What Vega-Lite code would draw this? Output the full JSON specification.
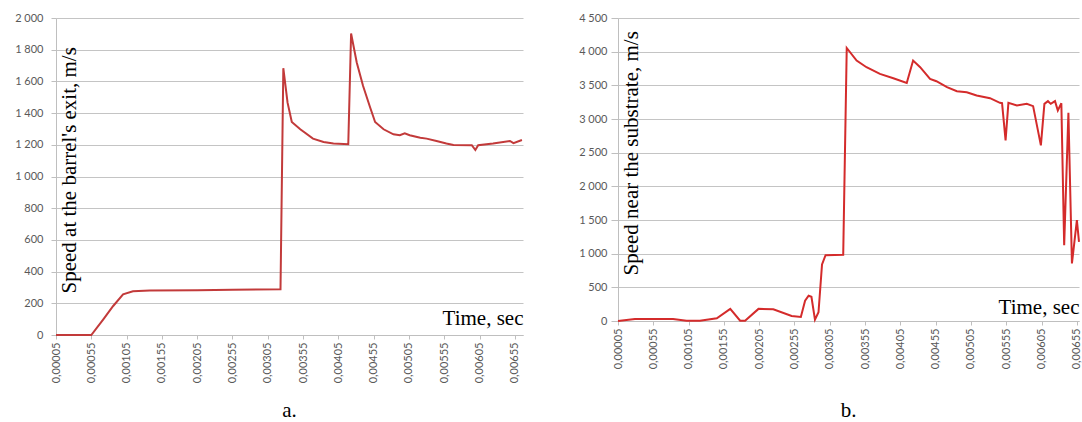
{
  "$schema": "https://vega.github.io/schema/vega-lite/v6.json",
  "background": "white",
  "padding": {"left": 14, "top": 12, "right": 0, "bottom": 0},
  "bounds": "flush",
  "spacing": 95,
  "config": {
    "view": {"stroke": null},
    "axis": {
      "labelFont": "Lato",
      "labelFontSize": 11,
      "labelColor": "#595959",
      "domainColor": "#bfbfbf",
      "tickColor": "#bfbfbf",
      "gridColor": "#c4c4c4",
      "titleFont": "Liberation Serif",
      "titleFontSize": 21,
      "titleFontWeight": "normal",
      "titleColor": "#000000",
      "labelFlush": false,
      "labelOverlap": false,
      "labelBound": false
    },
    "title": {"font": "Liberation Serif", "fontSize": 21, "fontWeight": "normal", "color": "#000000"}
  },
  "datasets": {
    "a": [
      {"t": 0.00005, "v": 0}, {"t": 0.00055, "v": 0}, {"t": 0.00072, "v": 99}, {"t": 0.00086, "v": 183},
      {"t": 0.00100, "v": 257}, {"t": 0.00114, "v": 276}, {"t": 0.00138, "v": 280}, {"t": 0.00205, "v": 283},
      {"t": 0.00255, "v": 285}, {"t": 0.00323, "v": 288}, {"t": 0.00327, "v": 1683}, {"t": 0.00333, "v": 1466},
      {"t": 0.00339, "v": 1344}, {"t": 0.00351, "v": 1298}, {"t": 0.00369, "v": 1239}, {"t": 0.00384, "v": 1218},
      {"t": 0.00398, "v": 1208}, {"t": 0.00419, "v": 1204}, {"t": 0.00423, "v": 1902}, {"t": 0.00431, "v": 1719},
      {"t": 0.00440, "v": 1571}, {"t": 0.00450, "v": 1435}, {"t": 0.00457, "v": 1344}, {"t": 0.00469, "v": 1298},
      {"t": 0.00483, "v": 1266}, {"t": 0.00492, "v": 1260}, {"t": 0.00499, "v": 1273}, {"t": 0.00506, "v": 1260},
      {"t": 0.00521, "v": 1245}, {"t": 0.00530, "v": 1239}, {"t": 0.00544, "v": 1224}, {"t": 0.00558, "v": 1208},
      {"t": 0.00568, "v": 1199}, {"t": 0.00594, "v": 1197}, {"t": 0.00599, "v": 1167}, {"t": 0.00603, "v": 1197},
      {"t": 0.00624, "v": 1208}, {"t": 0.00648, "v": 1224}, {"t": 0.00653, "v": 1210}, {"t": 0.00665, "v": 1230}
    ],
    "b": [
      {"t": 0.00005, "v": 0}, {"t": 0.00029, "v": 30}, {"t": 0.00083, "v": 30}, {"t": 0.00102, "v": 5},
      {"t": 0.00121, "v": 5}, {"t": 0.00145, "v": 40}, {"t": 0.00164, "v": 180}, {"t": 0.00178, "v": 5},
      {"t": 0.00185, "v": 5}, {"t": 0.00204, "v": 180}, {"t": 0.00225, "v": 175}, {"t": 0.00251, "v": 75},
      {"t": 0.00264, "v": 60}, {"t": 0.00270, "v": 300}, {"t": 0.00275, "v": 375}, {"t": 0.00279, "v": 360},
      {"t": 0.00284, "v": 20}, {"t": 0.00289, "v": 130}, {"t": 0.00294, "v": 840}, {"t": 0.00299, "v": 978},
      {"t": 0.00324, "v": 985}, {"t": 0.00329, "v": 4055}, {"t": 0.00343, "v": 3868}, {"t": 0.00357, "v": 3769},
      {"t": 0.00376, "v": 3670}, {"t": 0.00395, "v": 3606}, {"t": 0.00414, "v": 3536}, {"t": 0.00423, "v": 3868},
      {"t": 0.00433, "v": 3769}, {"t": 0.00447, "v": 3596}, {"t": 0.00456, "v": 3561}, {"t": 0.00471, "v": 3472},
      {"t": 0.00485, "v": 3413}, {"t": 0.00499, "v": 3398}, {"t": 0.00513, "v": 3349}, {"t": 0.00532, "v": 3309},
      {"t": 0.00546, "v": 3240}, {"t": 0.00549, "v": 3235}, {"t": 0.00554, "v": 2683}, {"t": 0.00558, "v": 3240},
      {"t": 0.00570, "v": 3201}, {"t": 0.00584, "v": 3225}, {"t": 0.00593, "v": 3191}, {"t": 0.00604, "v": 2608},
      {"t": 0.00609, "v": 3225}, {"t": 0.00614, "v": 3265}, {"t": 0.00618, "v": 3225}, {"t": 0.00624, "v": 3265},
      {"t": 0.00628, "v": 3127}, {"t": 0.00633, "v": 3235}, {"t": 0.00637, "v": 1126}, {"t": 0.00643, "v": 3091},
      {"t": 0.00648, "v": 854}, {"t": 0.00655, "v": 1497}, {"t": 0.00658, "v": 1175}
    ]
  },
  "hconcat": [
    {
      "width": 467,
      "height": 317,
      "data": {"name": "a"},
      "title": {"text": "a.", "orient": "bottom", "offset": 17},
      "mark": {"type": "line", "color": "#c23a3a", "strokeWidth": 2},
      "encoding": {
        "x": {
          "field": "t", "type": "quantitative",
          "scale": {"domain": [0.00005, 0.006665], "nice": false, "zero": false},
          "axis": {
            "values": [0.00005, 0.00055, 0.00105, 0.00155, 0.00205, 0.00255, 0.00305, 0.00355, 0.00405, 0.00455, 0.00505, 0.00555, 0.00605, 0.00655],
            "labelExpr": "replace(format(datum.value, '.5f'), '.', ',')",
            "labelAngle": 270, "labelAlign": "right", "labelBaseline": "middle",
            "grid": false, "tickSize": 4, "labelPadding": 3,
            "title": "Time, sec", "titleX": 467, "titleY": -11, "titleAlign": "right", "titleBaseline": "alphabetic", "titleAngle": 0
          }
        },
        "y": {
          "field": "v", "type": "quantitative",
          "scale": {"domain": [0, 2000], "nice": false},
          "axis": {
            "values": [0, 200, 400, 600, 800, 1000, 1200, 1400, 1600, 1800, 2000],
            "labelExpr": "replace(format(datum.value, ','), ',', ' ')",
            "grid": true, "tickSize": 5, "labelPadding": 8,
            "title": "Speed at the barrel's exit, m/s", "titleAngle": 270, "titleX": 19, "titleY": 275, "titleAlign": "left", "titleBaseline": "alphabetic"
          }
        }
      }
    },
    {
      "width": 461,
      "height": 303,
      "data": {"name": "b"},
      "title": {"text": "b.", "orient": "bottom", "offset": 31},
      "mark": {"type": "line", "color": "#d42b2b", "strokeWidth": 2},
      "encoding": {
        "x": {
          "field": "t", "type": "quantitative",
          "scale": {"domain": [0.00005, 0.00658], "nice": false, "zero": false},
          "axis": {
            "values": [0.00005, 0.00055, 0.00105, 0.00155, 0.00205, 0.00255, 0.00305, 0.00355, 0.00405, 0.00455, 0.00505, 0.00555, 0.00605, 0.00655],
            "labelExpr": "replace(format(datum.value, '.5f'), '.', ',')",
            "labelAngle": 270, "labelAlign": "right", "labelBaseline": "middle",
            "grid": false, "tickSize": 4, "labelPadding": 3,
            "title": "Time, sec", "titleX": 461, "titleY": -8, "titleAlign": "right", "titleBaseline": "alphabetic", "titleAngle": 0
          }
        },
        "y": {
          "field": "v", "type": "quantitative",
          "scale": {"domain": [0, 4500], "nice": false},
          "axis": {
            "values": [0, 500, 1000, 1500, 2000, 2500, 3000, 3500, 4000, 4500],
            "labelExpr": "replace(format(datum.value, ','), ',', ' ')",
            "grid": true, "tickSize": 7, "labelPadding": 4,
            "title": "Speed near the substrate, m/s", "titleAngle": 270, "titleX": 19, "titleY": 257, "titleAlign": "left", "titleBaseline": "alphabetic"
          }
        }
      }
    }
  ]
}
